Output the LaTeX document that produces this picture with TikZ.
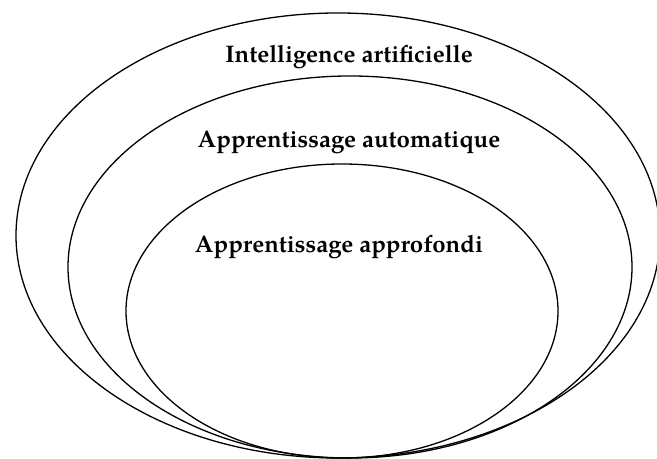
\documentclass[tikz,border=0pt]{standalone}
\usepackage{fontspec}
\setmainfont{TeX Gyre Pagella}
\usepackage{tikz}
\usetikzlibrary{positioning}
\tikzset{
  ring/.style={draw=black, line width=0.65pt},
  ringlabel/.style={font=\fontsize{12}{14}\selectfont\bfseries, inner sep=0pt, anchor=base}
}

\begin{document}
\begin{tikzpicture}[x=0.5pt, y=0.5pt]
\useasboundingbox (0,0) rectangle (657,459);
\draw[ring] (338,223.5) ellipse [x radius=322, y radius=222.5];
\draw[ring] (350,192) ellipse [x radius=282, y radius=191];
\draw[ring] (342,148) ellipse [x radius=216, y radius=147];
\node[ringlabel] (ia) at (349,396) {Intelligence artificielle};
\node[ringlabel] (aa) at (349,311) {Apprentissage automatique};
\node[ringlabel] (ap) at (339,206) {Apprentissage approfondi};
\end{tikzpicture}
\end{document}
